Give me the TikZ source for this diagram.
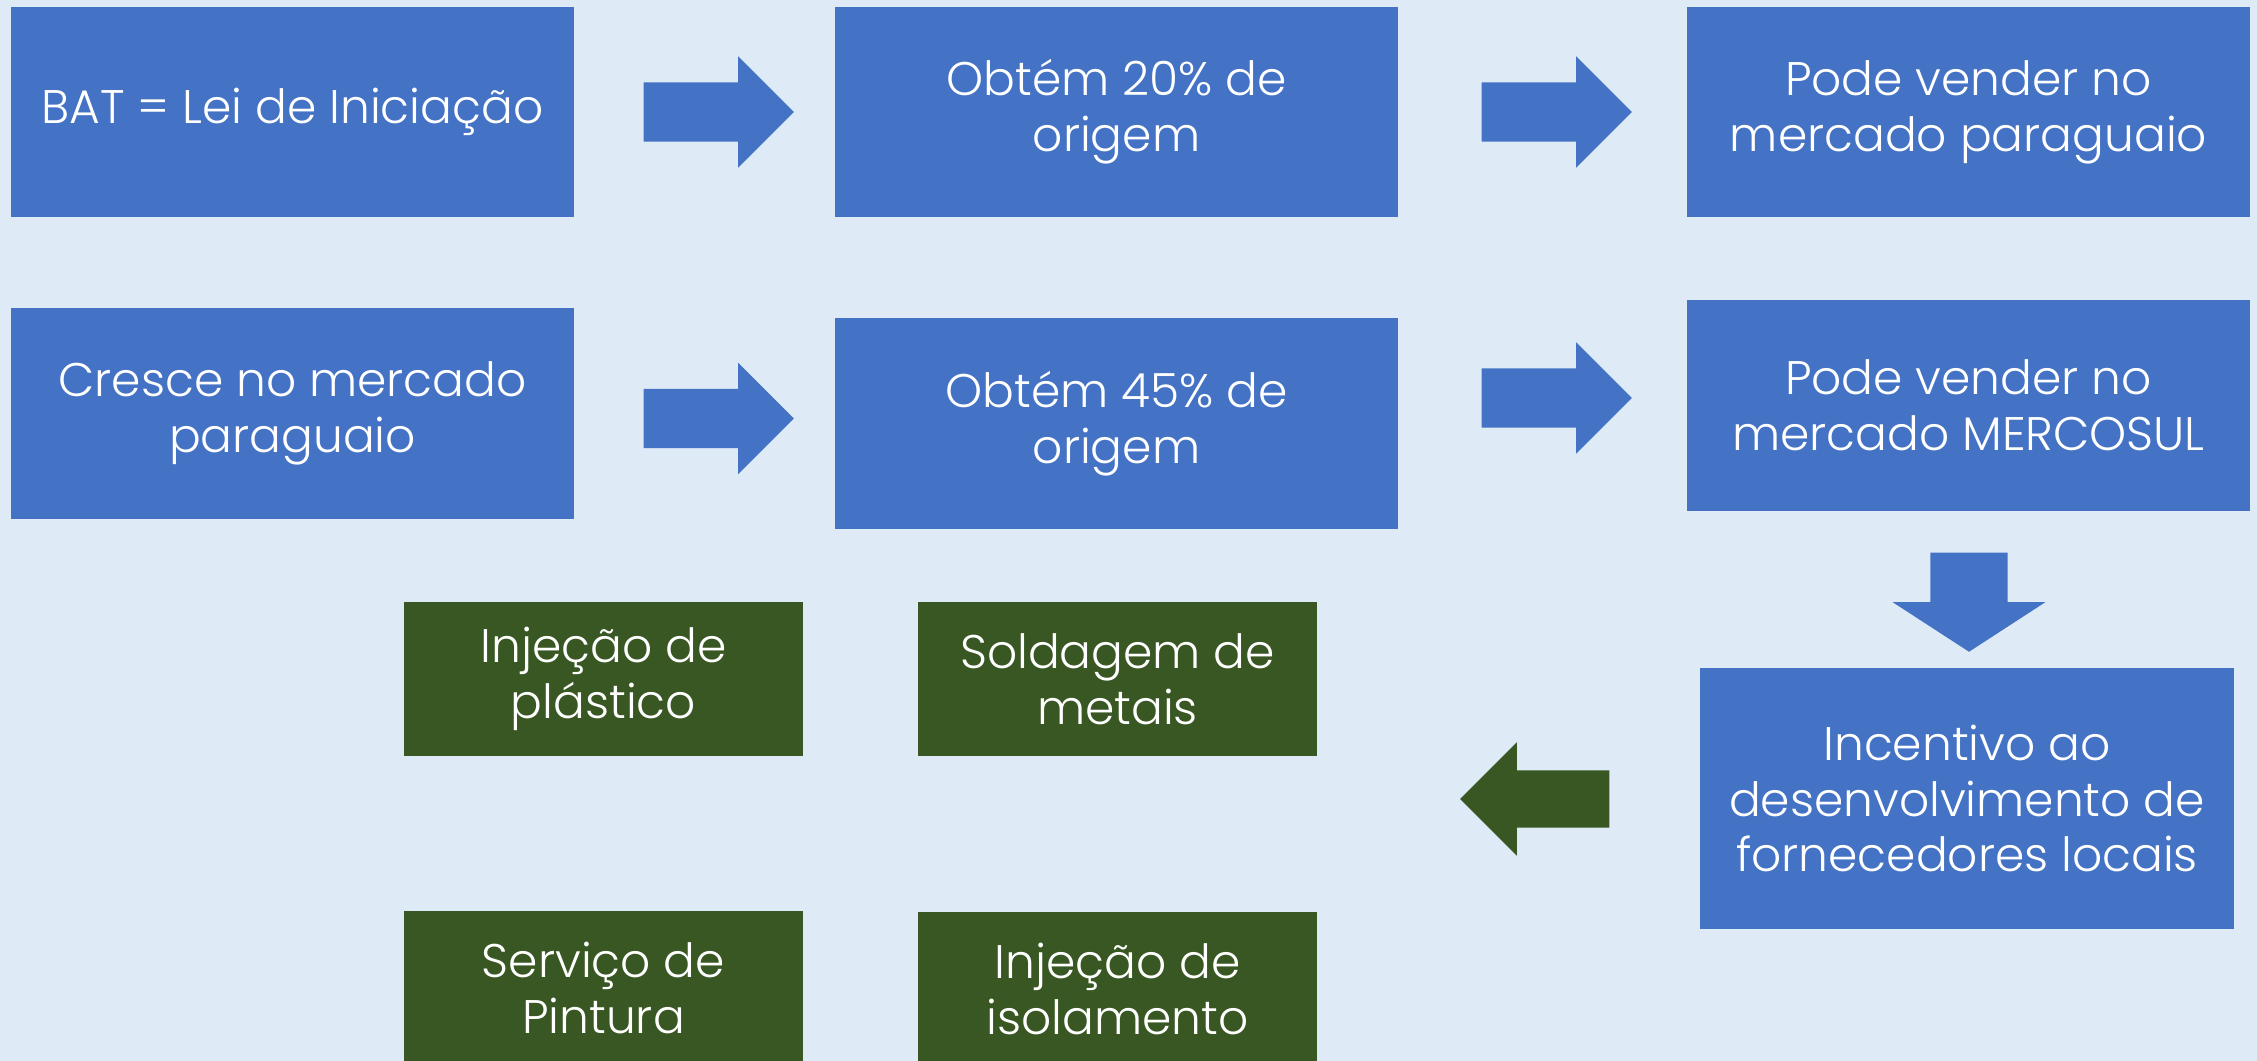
\documentclass[tikz,border=0pt]{standalone}
\usepackage{fontspec}
\setmainfont{Poppins}[UprightFont=* Light]
\usepackage{xcolor}
\usetikzlibrary{shapes.arrows,positioning,calc}

\definecolor{bgblue}{HTML}{DEEBF7}
\definecolor{boxblue}{HTML}{4472C4}
\definecolor{boxgreen}{HTML}{385723}

\begin{document}
\begin{tikzpicture}[x=0.01cm, y=-0.01cm,
    every node/.style={font=\fontsize{13.4}{15.9}\selectfont, text=white, align=center},
    bluebox/.style={fill=boxblue, inner sep=0pt, minimum width=5.63cm, minimum height=2.1cm},
    greenbox/.style={fill=boxgreen, inner sep=0pt, minimum width=3.99cm, minimum height=1.54cm},
    blockarrow/.style={single arrow, fill=#1, inner xsep=0pt, anchor=tail},
    rarrow/.style={blockarrow=boxblue, inner ysep=0.29cm, single arrow head extend=0.26cm,
        single arrow tip angle=90, minimum height=1.5cm}]
    % Background
    \useasboundingbox (0,0) rectangle (2257,1061);
    \fill[bgblue] (0,0) rectangle (2257,1061);

    % Row 1
    \node[bluebox] (bat) at (292.5,112) {BAT = Lei de Iniciação};
    \node[bluebox] (ob20) at (1116.5,112) {Obtém 20\% de\\origem};
    \node[bluebox] (pv1) at (1968.5,112) {Pode vender no\\mercado paraguaio};

    % Row 2
    \node[bluebox, minimum height=2.11cm] (cresce) at (292.5,413.5) {Cresce no mercado\\paraguaio};
    \node[bluebox, minimum height=2.11cm] (ob45) at (1116.5,423.5) {Obtém 45\% de\\origem};
    \node[bluebox, minimum height=2.11cm] (pv2) at (1968.5,405.5) {Pode vender no\\mercado MERCOSUL};

    % Arrows between the boxes
    \node[rarrow] (a1) at (643,112) {};
    \node[rarrow] (a2) at (1481,112) {};
    \node[rarrow] (a3) at (643,418.5) {};
    \node[rarrow] (a4) at (1481,398) {};
    \node[blockarrow=boxblue, rotate=270, inner ysep=0.38cm, single arrow head extend=0.375cm,
        single arrow tip angle=114, minimum height=0.99cm] (a5) at (1969,552) {};

    % Incentive
    \node[bluebox, minimum width=5.34cm, minimum height=2.61cm] (incent) at (1967,798.5)
        {Incentivo ao\\desenvolvimento de\\fornecedores locais};
    \node[blockarrow=boxgreen, rotate=180, inner ysep=0.28cm, single arrow head extend=0.28cm,
        single arrow tip angle=90, minimum height=1.49cm] (a6) at (1610,799) {};

    % Local suppliers
    \foreach \n/\x/\y/\txt in {plast/603.5/679/Injeção de\\plástico, sold/1117.5/679/Soldagem de\\metais,
        pint/603.5/988/Serviço de\\Pintura, isol/1117.5/989/Injeção de\\isolamento} {
        \node[greenbox] (\n) at (\x,\y) {\txt};
    }
\end{tikzpicture}
\end{document}
